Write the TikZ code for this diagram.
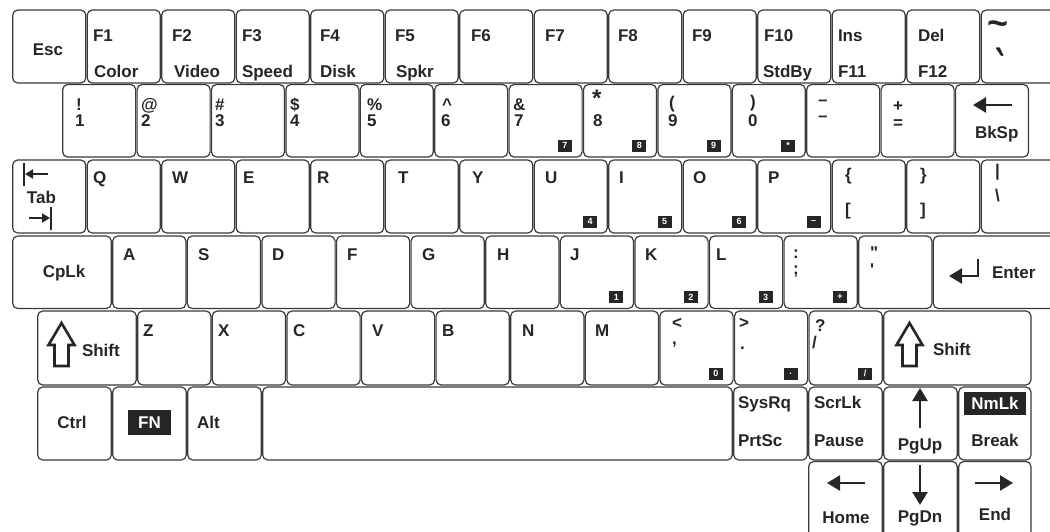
\documentclass[tikz,border=0pt]{standalone}
\usepackage{fontspec}
\setmainfont{Liberation Sans}
\newfontfamily\rawfont{Liberation Sans}
\usetikzlibrary{arrows.meta}
\definecolor{ink}{HTML}{262626}
\definecolor{edge}{HTML}{3A3A3A}
\newcommand\lbfont{\fontsize{17}{17}\selectfont\bfseries}
\newcommand\bgfont{\fontsize{9}{9}\selectfont\bfseries}
\newcommand\K[5]{\node[keybox, minimum width={(#4)-(#2)}, minimum height={(#5)-(#3)}, anchor=north west] (#1) at (#2,#3) {};}
\newcommand\Lb[4][]{\node[lbl,#1] (#2) at (#3) {#4};}
\newcommand\Bd[3]{\node[badge] (#1) at ([xshift=-10pt,yshift=5pt]#2.south east) {#3};}
\tikzset{
  keybox/.style={draw=edge, line width=1.2pt, rounded corners=5pt, inner sep=0pt, outer sep=0pt, fill=white},
  lbl/.style={anchor=base west, inner sep=0pt, outer sep=0pt, text=ink, font=\lbfont},
  badge/.style={anchor=south east, fill=ink, text=white, font=\bgfont, minimum width=14pt, minimum height=12pt, inner sep=0pt},
  inv/.style={fill=ink, text=white, font=\lbfont, inner sep=0pt},
  arr/.style={draw=ink, line width=2.4pt, -{Triangle[length=13pt,width=15pt]}},
  tabarr/.style={draw=ink, line width=1.8pt, -{Triangle[length=8pt,width=9pt]}},
  bar/.style={draw=ink, line width=2pt},
  hollow/.style={draw=ink, line width=2.6pt, line join=miter}
}
\begin{document}
\begin{tikzpicture}[x=1pt, y=-1pt]
\useasboundingbox (0,0) rectangle (1050,531);
\clip (0,0) rectangle (1050,531);
\fill[white] (0,0) rectangle (1050,531);
% ---------- row 1
\foreach \n [count=\i from 0] in {Esc,F1,F2,F3,F4,F5,F6,F7,F8,F9,F10,Ins,Del}{
  \pgfmathsetmacro\xa{12+74.5*\i+0.7}\pgfmathsetmacro\xb{12+74.5*(\i+1)-0.7}
  \K{k\n}{\xa}{10}{\xb}{83}}
\K{kTilde}{981.2}{10}{1075}{83}
% ---------- row 2
\foreach \n [count=\i from 0] in {1,2,3,4,5,6,7,8,9,0,Minus,Plus,BkSp}{
  \pgfmathsetmacro\xa{62+74.4*\i+0.7}\pgfmathsetmacro\xb{62+74.4*(\i+1)-0.7}
  \K{k\n}{\xa}{84.5}{\xb}{157}}
% ---------- row 3
\K{kTab}{12.7}{160}{85.8}{233}
\foreach \n [count=\i from 1] in {Q,W,E,R,T,Y,U,I,O,P,LBrace,RBrace}{
  \pgfmathsetmacro\xa{12+74.5*\i+0.7}\pgfmathsetmacro\xb{12+74.5*(\i+1)-0.7}
  \K{k\n}{\xa}{160}{\xb}{233}}
\K{kPipe}{981.2}{160}{1075}{233}
% ---------- row 4
\K{kCpLk}{12.7}{236}{111.3}{308.5}
\foreach \n [count=\i from 0] in {A,S,D,F,G,H,J,K,L,Semi,Quote}{
  \pgfmathsetmacro\xa{112+74.6*\i+0.7}\pgfmathsetmacro\xb{112+74.6*(\i+1)-0.7}
  \K{k\n}{\xa}{236}{\xb}{308.5}}
\K{kEnter}{933.3}{236}{1075}{308.5}
% ---------- row 5
\K{kLShift}{37.7}{311}{136.3}{385}
\foreach \n [count=\i from 0] in {Z,X,C,V,B,N,M,Comma,Period,Slash}{
  \pgfmathsetmacro\xa{137+74.6*\i+0.7}\pgfmathsetmacro\xb{137+74.6*(\i+1)-0.7}
  \K{k\n}{\xa}{311}{\xb}{385}}
\K{kRShift}{883.7}{311}{1031}{385}
% ---------- row 6
\K{kCtrl}{37.7}{387}{111.3}{460}
\K{kFN}{112.7}{387}{186.3}{460}
\K{kAlt}{187.7}{387}{261.3}{460}
\K{kSpace}{262.7}{387}{732.3}{460}
\K{kSysRq}{733.7}{387}{807.3}{460}
\K{kScrLk}{808.7}{387}{882.3}{460}
\K{kPgUp}{883.7}{387}{957.3}{460}
\K{kNmLk}{958.7}{387}{1031}{460}
% ---------- row 7
\K{kHome}{808.7}{461.5}{882.3}{545}
\K{kPgDn}{883.7}{461.5}{957.3}{545}
\K{kEnd}{958.7}{461.5}{1031}{545}

% ================= labels row 1
\Lb[anchor=base]{lEsc}{48,55}{Esc}
\Lb{lF1}{93,41}{F1}\Lb{lColor}{94,77}{Color}
\Lb{lF2}{172,41}{F2}\Lb{lVideo}{174,77}{Video}
\Lb{lF3}{242,41}{F3}\Lb{lSpeed}{242,77}{Speed}
\Lb{lF4}{320,41}{F4}\Lb{lDisk}{320,77}{Disk}
\Lb{lF5}{395,41}{F5}\Lb{lSpkr}{396,77}{Spkr}
\Lb{lF6}{471,41}{F6}
\Lb{lF7}{545,41}{F7}
\Lb{lF8}{618,41}{F8}
\Lb{lF9}{692,41}{F9}
\Lb{lF10}{764,41}{F10}\Lb{lStdBy}{763,77}{StdBy}
\Lb{lIns}{838,41}{Ins}\Lb{lF11}{838,77}{F11}
\Lb{lDel}{918,41}{Del}\Lb{lF12}{918,77}{F12}
\Lb[anchor=north west,font=\fontsize{36}{36}\selectfont\rawfont\bfseries]{lTil}{987,21}{\char"7E}
\Lb[anchor=north west,font=\fontsize{30}{30}\selectfont\rawfont\bfseries]{lGrv}{995,48}{\scalebox{1}[1.8]{\char"60}}

% ================= labels row 2
\Lb{lExcl}{76,110}{!}\Lb{lOne}{75,126}{1}
\Lb{lAt}{141,110}{@}\Lb{lTwo}{141,126}{2}
\Lb{lHash}{215,110}{\#}\Lb{lThree}{215,126}{3}
\Lb{lDollar}{290,110}{\$}\Lb{lFour}{290,126}{4}
\Lb{lPct}{367,110}{\%}\Lb{lFive}{367,126}{5}
\Lb{lCaret}{442,110}{\char"5E}\Lb{lSix}{441,126}{6}
\Lb{lAmp}{513,110}{\&}\Lb{lSeven}{514,126}{7}
\Lb[font=\fontsize{24}{24}\selectfont\bfseries]{lStar}{592,106}{*}\Lb{lEight}{593,126}{8}
\Lb{lLPar}{669,108}{(}\Lb{lNine}{668,126}{9}
\Lb{lRPar}{750,107}{)}\Lb{lZero}{748,126}{0}
\Lb{lDashA}{818,105}{–}\Lb{lDashB}{818,121}{–}
\Lb{lPlusS}{893,111}{+}\Lb{lEq}{893,128}{=}
\Lb{lBkSp}{975,138}{BkSp}
\coordinate (bkA) at (1012,105);
\coordinate (bkB) at (973,105);
\draw[arr] (bkA) -- (bkB);

% ================= labels row 3
\Lb{lTab}{27,203}{Tab}
\coordinate (tabA) at (48,174); \coordinate (tabB) at (25,174);
\draw[tabarr] (tabA) -- (tabB);
\coordinate (tabC) at (24,163); \coordinate (tabD) at (24,186);
\draw[bar] (tabC) -- (tabD);
\coordinate (tabE) at (29,218); \coordinate (tabF) at (50,218);
\draw[tabarr] (tabE) -- (tabF);
\coordinate (tabG) at (51,207); \coordinate (tabH) at (51,230);
\draw[bar] (tabG) -- (tabH);
\Lb{lQ}{93,183}{Q}
\Lb{lW}{172,183}{W}
\Lb{lE}{243,183}{E}
\Lb{lR}{317,183}{R}
\Lb{lT}{398,183}{T}
\Lb{lY}{472,183}{Y}
\Lb{lU}{545,183}{U}
\Lb{lI}{619,183}{I}
\Lb{lO}{693,183}{O}
\Lb{lP}{768,183}{P}
\Lb{lLBr}{845,180}{\{}\Lb{lLBk}{845,215}{[}
\Lb{lRBr}{920,180}{\}}\Lb{lRBk}{920,215}{]}
\Lb{lBar}{995,176}{|}\Lb{lBsl}{995,201}{\char"5C}

% ================= labels row 4
\Lb[anchor=base]{lCpLk}{64,277}{CpLk}
\Lb{lA}{123,260}{A}
\Lb{lS}{198,260}{S}
\Lb{lD}{272,260}{D}
\Lb{lF}{347,260}{F}
\Lb{lG}{422,260}{G}
\Lb{lH}{497,260}{H}
\Lb{lJ}{570,260}{J}
\Lb{lK}{645,260}{K}
\Lb{lL}{716,260}{L}
\Lb{lColon}{793,258}{:}\Lb{lSemi}{793,274}{;}
\Lb[font=\lbfont\rawfont]{lDq}{870,258}{"}\Lb[font=\lbfont\rawfont]{lSq}{870,275.5}{'}
\Lb{lEnter}{992,278}{Enter}
\coordinate (enA) at (978,259); \coordinate (enB) at (978,276); \coordinate (enC) at (949,276);
\draw[arr] (enA) -- (enB) -- (enC);

% ================= labels row 5
\Lb{lZ}{143,336}{Z}
\Lb{lX}{218,336}{X}
\Lb{lC}{293,336}{C}
\Lb{lV}{372,336}{V}
\Lb{lB}{442,336}{B}
\Lb{lN}{522,336}{N}
\Lb{lM}{595,336}{M}
\Lb{lLt}{672,328}{<}\Lb{lCm}{672,344}{,}
\Lb{lGt}{739,328}{>}\Lb{lDot}{740,349}{.}
\Lb{lQm}{815,331}{?}\Lb{lSl}{812,348}{/}
\Lb{lShiftL}{82,356}{Shift}
\Lb{lShiftR}{933,355}{Shift}
\foreach \cx in {61.5, 909.5}{
  \draw[hollow] (\cx,323) -- (\cx+13,345) -- (\cx+7,345) -- (\cx+7,366) -- (\cx-7,366) -- (\cx-7,345) -- (\cx-13,345) -- cycle;
}

% ================= labels row 6
\Lb[anchor=base]{lCtrl}{72,428}{Ctrl}
\node[inv, minimum width=43pt, minimum height=25pt] (lFN) at (149.5,422.5) {FN};
\Lb{lAlt}{197,428}{Alt}
\Lb{lSysRq}{738,408}{SysRq}\Lb{lPrtSc}{738,446}{PrtSc}
\Lb{lScrLk}{814,408}{ScrLk}\Lb{lPause}{814,446}{Pause}
\Lb[anchor=base]{lPgUp}{920,450}{PgUp}
\coordinate (upA) at (920,428); \coordinate (upB) at (920,388);
\draw[arr] (upA) -- (upB);
\node[inv, minimum width=62pt, minimum height=23pt] (lNmLk) at (995,403.5) {NmLk};
\Lb[anchor=base]{lBreak}{995,446}{Break}

% ================= labels row 7
\Lb[anchor=base]{lHome}{846,523}{Home}
\coordinate (hmA) at (865,483); \coordinate (hmB) at (827,483);
\draw[arr] (hmA) -- (hmB);
\Lb[anchor=base]{lPgDn}{920,522}{PgDn}
\coordinate (dnA) at (920,465); \coordinate (dnB) at (920,505);
\draw[arr] (dnA) -- (dnB);
\Lb[anchor=base]{lEnd}{995,520}{End}
\coordinate (enE) at (975,483); \coordinate (enF) at (1013,483);
\draw[arr] (enE) -- (enF);

% ================= keypad badges
\Bd{b7}{k7}{7}\Bd{b8}{k8}{8}\Bd{b9}{k9}{9}\Bd{bStar}{k0}{*}
\Bd{b4}{kU}{4}\Bd{b5}{kI}{5}\Bd{b6}{kO}{6}\Bd{bMinus}{kP}{–}
\Bd{b1}{kJ}{1}\Bd{b2}{kK}{2}\Bd{b3}{kL}{3}\Bd{bPlus}{kSemi}{+}
\Bd{b0}{kComma}{0}\Bd{bDot}{kPeriod}{.}\Bd{bSlash}{kSlash}{/}
\end{tikzpicture}
\end{document}
